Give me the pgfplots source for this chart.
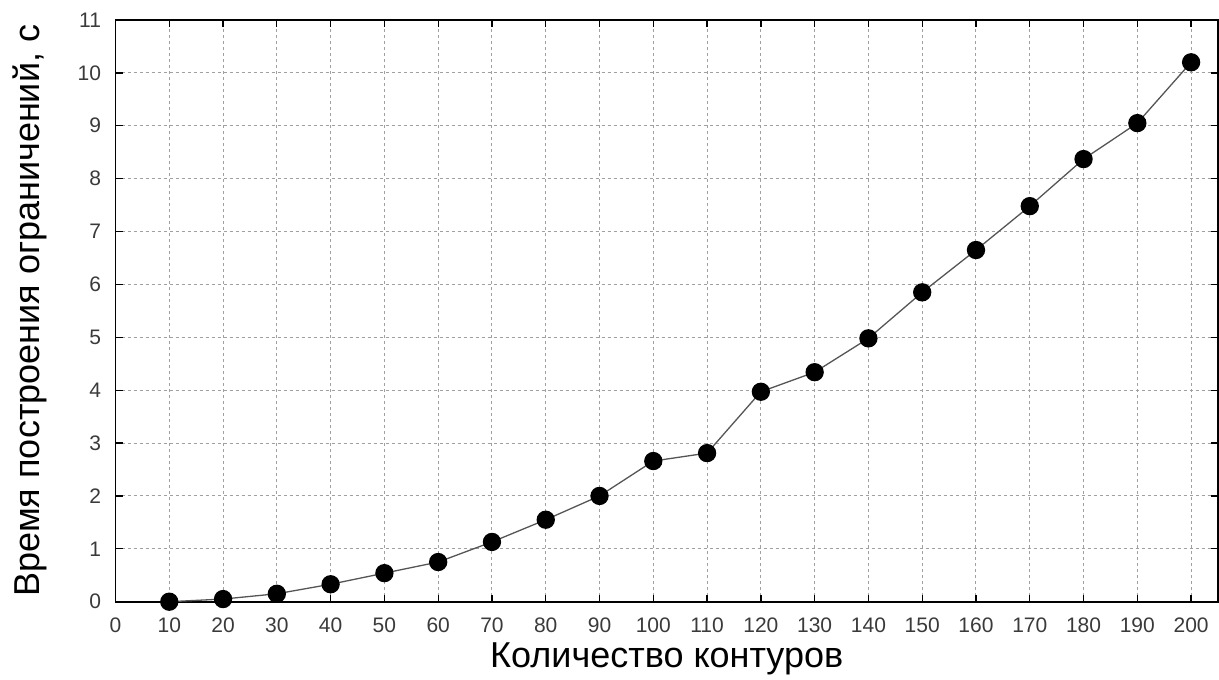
\documentclass[border=0pt]{standalone}
\usepackage{fontspec}
\setmainfont{Liberation Sans}
\usepackage{pgfplots}
\pgfplotsset{compat=1.18}
\definecolor{ticktext}{HTML}{3A3A3A}
\definecolor{gridc}{HTML}{A0A0A0}
\definecolor{linec}{HTML}{555555}
\begin{document}
\begin{tikzpicture}
\begin{axis}[
  name=ax,
  scale only axis,
  width=1102.5pt, height=581.7pt,
  xmin=0, xmax=205, ymin=0, ymax=11,
  xtick={0,10,...,200}, ytick={0,1,...,11},
  tick align=inside,
  xtick pos=both, ytick pos=both,
  major tick length=7pt,
  tick style={line width=1.3pt, black},
  axis line style={line width=1.6pt, black},
  grid=major,
  major grid style={gridc, line width=1pt, dash pattern=on 3pt off 3pt},
  /pgf/number format/assume math mode=true,
  ticklabel style={font=\fontsize{21}{24}\selectfont, text=ticktext},
  xticklabel style={yshift=-13pt},
  yticklabel style={xshift=-11pt},
  xlabel={Количество контуров},
  ylabel={Время построения ограничений, с},
  label style={font=\fontsize{36}{40}\selectfont, text=black, inner sep=0pt},
  xlabel style={at={(axis description cs:0.5,-0.0990)}, anchor=center},
  ylabel style={at={(axis description cs:-0.0780,0.5)}, anchor=center, rotate=0},
]
\addplot[color=linec, line width=1.3pt, mark=*, mark size=8.5pt,
  mark options={fill=black, draw=black, solid}]
coordinates {
(10,0.00) (20,0.05) (30,0.15) (40,0.33) (50,0.54) (60,0.75)
(70,1.13) (80,1.55) (90,2.00) (100,2.66) (110,2.81) (120,3.97)
(130,4.34) (140,4.98) (150,5.85) (160,6.65) (170,7.48) (180,8.37)
(190,9.05) (200,10.20)
};
\end{axis}
\pgfresetboundingbox
\path[use as bounding box] ([shift={(-115.5pt,-77.3pt)}]ax.south west) rectangle ([shift={(1pt,20pt)}]ax.north east);
\end{tikzpicture}
\end{document}
